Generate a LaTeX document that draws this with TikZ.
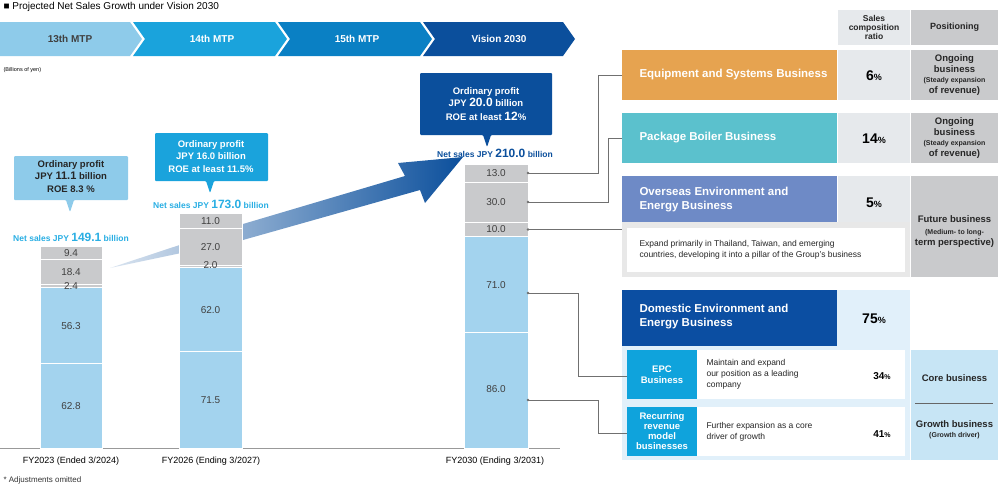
\documentclass[tikz,border=0pt]{standalone}
\usepackage{fontspec}
\setmainfont{Liberation Sans}
\usetikzlibrary{shadings}
\definecolor{mtpA}{HTML}{8ECBEA}\definecolor{mtpB}{HTML}{1AA3DC}\definecolor{mtpC}{HTML}{0A80C4}\definecolor{mtpD}{HTML}{0B4F9C}
\definecolor{segblue}{HTML}{A3D3EE}\definecolor{seggrey}{HTML}{C9CACC}
\definecolor{orangeB}{HTML}{E6A350}\definecolor{tealB}{HTML}{5BC1CD}\definecolor{purpB}{HTML}{6E8AC6}\definecolor{domB}{HTML}{0B4EA2}
\definecolor{epcB}{HTML}{0FA3DC}\definecolor{cellL}{HTML}{E6E9EC}\definecolor{cellG}{HTML}{C9CACC}\definecolor{lblue}{HTML}{E1F0FA}\definecolor{pblue}{HTML}{C7E5F5}
\definecolor{netA}{HTML}{29AEE3}\definecolor{conn}{HTML}{707070}
\begin{document}
\begin{tikzpicture}[x=1pt,y=-1pt,
  bl/.style={fill=segblue,draw=white,line width=0.8pt},
  gr/.style={fill=seggrey,draw=white,line width=0.8pt},
  val/.style={font=\fontsize{10}{12}\selectfont,text=black!75},
  chev/.style={text=white,font=\bfseries\fontsize{10}{12}\selectfont},
  bizname/.style={text=white,font=\bfseries\fontsize{11.5}{14}\selectfont,align=left,anchor=west},
  pct/.style={font=\bfseries\fontsize{14}{16}\selectfont},
  posn/.style={font=\bfseries\fontsize{9.5}{11}\selectfont,align=center,text=black!85},
  desc/.style={font=\fontsize{8.5}{11}\selectfont,align=left,anchor=west,text=black!85},
  cl/.style={conn,line width=0.7pt},
  callt/.style={font=\bfseries\fontsize{9.5}{12}\selectfont,align=center}]
\useasboundingbox (0,0) rectangle (1000,488);
\node[anchor=west,font=\fontsize{10}{12}\selectfont] (title) at (0,7) {■\ Projected Net Sales Growth under Vision 2030};
% chevrons
\fill[mtpA] (0,22)--(130,22)--(142,39)--(130,56)--(0,56)--cycle;
\fill[mtpB] (133,22)--(275,22)--(287,39)--(275,56)--(133,56)--(145,39)--cycle;
\fill[mtpC] (278,22)--(420,22)--(432,39)--(420,56)--(278,56)--(290,39)--cycle;
\fill[mtpD] (423,22)--(563,22)--(575,39)--(563,56)--(423,56)--(435,39)--cycle;
\node[chev,text=black!75] (m13) at (70,39) {13th MTP};
\node[chev] (m14) at (212,39) {14th MTP};
\node[chev] (m15) at (357,39) {15th MTP};
\node[chev] (m30) at (499,39) {Vision 2030};
\node[anchor=west,font=\fontsize{5.5}{6}\selectfont] (unit) at (0,70) {(Billions of yen)};
% big arrow
\shade[left color=mtpD!15,right color=mtpD] (110,268)--(243,224)--(405,176)--(398,163)--(463,157)--(425,203)--(420,190)--(243,240)--cycle;
% baseline
\draw[black!40,line width=0.5pt] (0,448.5)--(560,448.5);
% bar1
\draw[bl] (40,448) rectangle (102,363.2); \draw[bl] (40,363.2) rectangle (102,287.2);
\draw[gr] (40,287.2) rectangle (102,284); \draw[gr] (40,284) rectangle (102,259.2); \draw[gr] (40,259.2) rectangle (102,246.5);
\node[val] (a1) at (71,406) {62.8}; \node[val] (a2) at (71,326) {56.3}; \node[val] (a3) at (71,286) {2.4};
\node[val] (a4) at (71,272) {18.4}; \node[val] (a5) at (71,253) {9.4};
% bar2
\draw[bl] (179,448) rectangle (242,351.5); \draw[bl] (179,351.5) rectangle (242,267.8);
\draw[gr] (179,267.8) rectangle (242,265.1); \draw[gr] (179,265.1) rectangle (242,228.6); \draw[gr] (179,228.6) rectangle (242,213.7);
\node[val] (b1) at (210.5,400) {71.5}; \node[val] (b2) at (210.5,310) {62.0}; \node[val] (b3) at (210.5,265) {2.0};
\node[val] (b4) at (210.5,247) {27.0}; \node[val] (b5) at (210.5,221) {11.0};
% bar3
\draw[bl] (464,448) rectangle (528,332); \draw[bl] (464,332) rectangle (528,236.2);
\draw[gr] (464,236.2) rectangle (528,222.7); \draw[gr] (464,222.7) rectangle (528,182.2); \draw[gr] (464,182.2) rectangle (528,164.7);
\node[val] (c1) at (496,389) {86.0}; \node[val] (c2) at (496,285) {71.0}; \node[val] (c3) at (496,229.5) {10.0};
\node[val] (c4) at (496,202) {30.0}; \node[val] (c5) at (496,173.5) {13.0};
% net sales
\node[text=netA,font=\bfseries\fontsize{8.5}{10}\selectfont] (n1) at (71,237) {Net sales JPY \fontsize{12}{12}\selectfont149.1\fontsize{8.5}{10}\selectfont\ billion};
\node[text=netA,font=\bfseries\fontsize{8.5}{10}\selectfont] (n2) at (211,204) {Net sales JPY \fontsize{12}{12}\selectfont173.0\fontsize{8.5}{10}\selectfont\ billion};
\node[text=mtpD,font=\bfseries\fontsize{8.5}{10}\selectfont] (n3) at (495,153) {Net sales JPY \fontsize{12}{12}\selectfont210.0\fontsize{8.5}{10}\selectfont\ billion};
% callouts
\fill[mtpA,rounded corners=1pt] (14,156)--(128,156)--(128,200)--(74,200)--(70,212)--(66,200)--(14,200)--cycle;
\node[callt,text=black!85] (co1) at (71,177) {Ordinary profit\\JPY \fontsize{11}{12}\selectfont11.1\fontsize{9.5}{12}\selectfont\ billion\\[1pt]ROE 8.3 \%};
\fill[mtpB,rounded corners=1pt] (155,133)--(268,133)--(268,181)--(214,181)--(210,193)--(206,181)--(155,181)--cycle;
\node[callt,text=white] (co2) at (211,157) {Ordinary profit\\JPY 16.0 billion\\[1pt]ROE at least 11.5\%};
\fill[mtpD,rounded corners=1pt] (420,73)--(552,73)--(552,135)--(491,135)--(487,147)--(483,135)--(420,135)--cycle;
\node[callt,text=white] (co3) at (486,104) {Ordinary profit\\JPY \fontsize{12}{13}\selectfont20.0\fontsize{9.5}{12}\selectfont\ billion\\[2pt]ROE at least \fontsize{12}{13}\selectfont12\fontsize{9.5}{12}\selectfont\%};
% years
\node[font=\fontsize{9}{11}\selectfont] (y1) at (71,461) {FY2023 (Ended 3/2024)};
\node[font=\fontsize{9}{11}\selectfont] (y2) at (211,461) {FY2026 (Ending 3/2027)};
\node[font=\fontsize{9}{11}\selectfont] (y3) at (495,461) {FY2030 (Ending 3/2031)};
\node[anchor=west,font=\fontsize{8}{10}\selectfont,text=black!80] (note) at (0,480) {* Adjustments omitted};
% table header
\fill[cellL] (838,10) rectangle (910,45); \fill[cellG] (911,10) rectangle (998,45);
\node[font=\bfseries\fontsize{8.5}{9}\selectfont,align=center,text=black!85] (h1) at (874,27.5) {Sales\\composition\\ratio};
\node[font=\bfseries\fontsize{9}{10}\selectfont,text=black!85] (h2) at (954.5,27.5) {Positioning};
% equipment
\fill[orangeB] (622,50) rectangle (837,100); \fill[cellL] (838,50) rectangle (910,100); \fill[cellG] (911,50) rectangle (998,100);
\node[bizname] (eq) at (636,75) {Equipment and Systems Business};
\node[pct] (eqp) at (874,76) {6\fontsize{9}{10}\selectfont\%};
\node[posn] (eqs) at (954.5,75) {Ongoing\\business\\[-1pt]\fontsize{7}{8.5}\selectfont (Steady expansion\\of revenue)};
% package
\fill[tealB] (622,113) rectangle (837,163); \fill[cellL] (838,113) rectangle (910,163); \fill[cellG] (911,113) rectangle (998,163);
\node[bizname] (pb) at (636,138) {Package Boiler Business};
\node[pct] (pbp) at (874,139) {14\fontsize{9}{10}\selectfont\%};
\node[posn] (pbs) at (954.5,138) {Ongoing\\business\\[-1pt]\fontsize{7}{8.5}\selectfont (Steady expansion\\of revenue)};
% overseas
\fill[purpB] (622,176) rectangle (837,222); \fill[cellL] (838,176) rectangle (910,222);
\fill[black!9] (622,222) rectangle (910,277); \fill[white] (627,228) rectangle (905,272);
\fill[cellG] (911,176) rectangle (998,277);
\node[bizname] (ov) at (636,200) {Overseas Environment and\\Energy Business};
\node[pct] (ovp) at (874,203) {5\fontsize{9}{10}\selectfont\%};
\node[desc] (ovd) at (636,250) {Expand primarily in Thailand, Taiwan, and emerging\\countries, developing it into a pillar of the Group's business};
\node[posn] (ovs) at (954.5,232) {Future business\\[1pt]\fontsize{7}{8.5}\selectfont (Medium- to long-\\term perspective)};
% domestic
\fill[lblue] (622,290) rectangle (910,460);
\fill[domB] (622,290) rectangle (837,346);
\node[bizname] (dm) at (636,317) {Domestic Environment and\\Energy Business};
\node[pct] (dmp) at (874,319) {75\fontsize{9}{10}\selectfont\%};
\fill[epcB] (627,350) rectangle (697,399); \fill[white] (697,350) rectangle (905,399);
\fill[epcB] (627,407) rectangle (697,456); \fill[white] (697,407) rectangle (905,456);
\node[font=\bfseries\fontsize{9.5}{10.5}\selectfont,text=white,align=center] (epc) at (662,374.5) {EPC\\Business};
\node[font=\bfseries\fontsize{9.5}{10}\selectfont,text=white,align=center] (rec) at (662,431.5) {Recurring\\revenue\\model\\businesses};
\node[desc] (epcd) at (703,374.5) {Maintain and expand\\our position as a leading\\company};
\node[desc] (recd) at (703,431.5) {Further expansion as a core\\driver of growth};
\node[font=\bfseries\fontsize{10}{11}\selectfont] (epcp) at (882,376) {34\fontsize{7}{8}\selectfont\%};
\node[font=\bfseries\fontsize{10}{11}\selectfont] (recp) at (882,434) {41\fontsize{7}{8}\selectfont\%};
\fill[pblue] (911,350) rectangle (998,460);
\draw[black!60,line width=0.5pt] (915,403) -- (993,403);
\node[posn] (core) at (954.5,378) {Core business};
\node[posn] (grow) at (954.5,430) {Growth business\\[-1pt]\fontsize{7}{8.5}\selectfont (Growth driver)};
% connectors
\coordinate (p1) at (528,173); \coordinate (p2) at (528,202); \coordinate (p3) at (528,229.5);
\coordinate (p4) at (528,293); \coordinate (p5) at (528,400);
\draw[cl] (p1) -- (598,173) |- (622,75);
\draw[cl] (p2) -- (608,202) |- (622,138);
\draw[cl] (p3) -- (622,229.5);
\draw[cl] (p4) -- (578,293) |- (627,376);
\draw[cl] (p5) -- (598,400) |- (627,433);
\foreach \p in {p1,p2,p3,p4,p5} \fill[conn] (\p) circle (1.3);
\end{tikzpicture}
\end{document}
